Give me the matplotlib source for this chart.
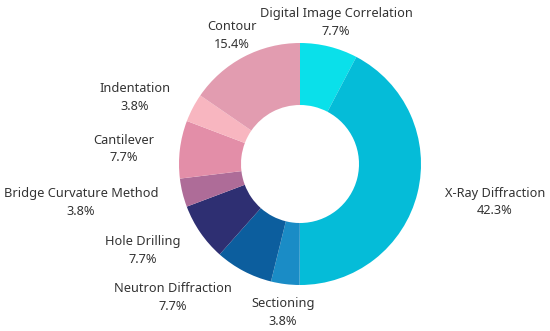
import matplotlib
matplotlib.use("Agg")
import matplotlib.pyplot as plt

categories = ["Digital Image Correlation", "X-Ray Diffraction", "Sectioning",
              "Neutron Diffraction", "Hole Drilling", "Bridge Curvature Method",
              "Cantilever", "Indentation", "Contour"]
values = [7.7, 42.3, 3.8, 7.7, 7.7, 3.8, 7.7, 3.8, 15.4]
colors = ["#0AE0EA", "#05BCD8", "#1A8CC6", "#0C5E9E", "#2E2F72",
          "#AE6C98", "#E38EA8", "#F8B6C0", "#E29CB0"]
# label anchor positions (pixels, from top-left)
label_pos = [(336, 14), (495, 193), (283, 304), (173, 289), (143, 242),
             (81, 194), (124, 140), (135, 89), (232, 27)]

W, H = 550, 331
fig = plt.figure(figsize=(W / 100, H / 100), dpi=100)
ax = fig.add_axes([0, 0, 1, 1])

ax.pie(values, colors=colors, startangle=90, counterclock=False,
       center=(300, H - 164), radius=121, frame=True,
       wedgeprops=dict(width=62, linewidth=0))
ax.set_xlim(0, W)
ax.set_ylim(0, H)
ax.set_aspect("equal")
ax.axis("off")

for cat, val, (x, y) in zip(categories, values, label_pos):
    ax.text(x, H - y, cat, ha="center", va="center", fontsize=9.2,
            family="Noto Sans", color="#333333")
    ax.text(x, H - y - 17.5, f"{val}%", ha="center", va="center", fontsize=9.2,
            family="Noto Sans", color="#333333")

fig.savefig("out.png", dpi=100)
